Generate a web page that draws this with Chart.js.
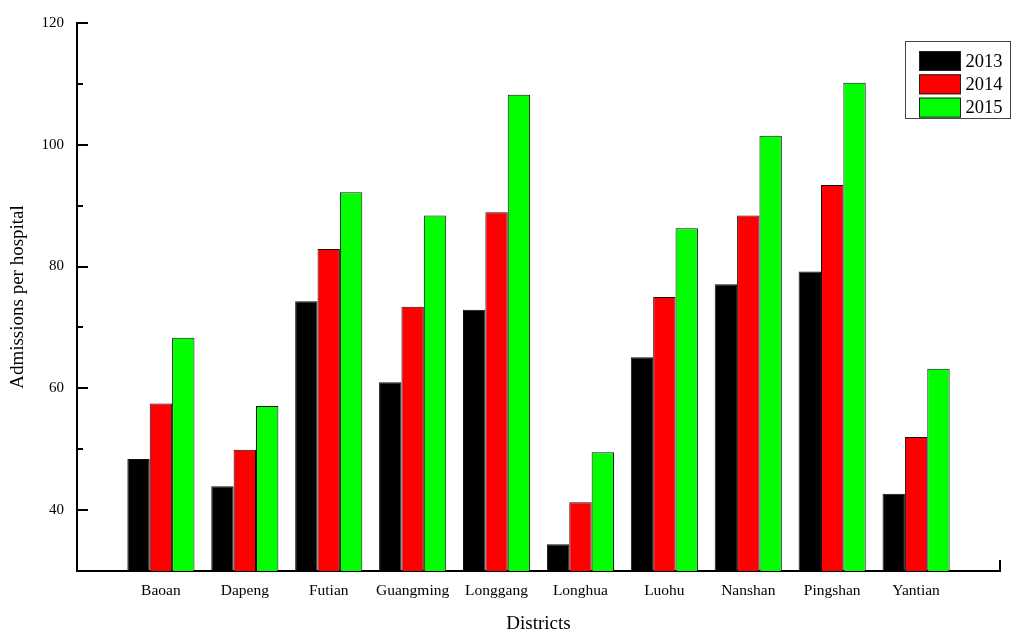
<!DOCTYPE html>
<html>
<head>
<meta charset="utf-8">
<script src="https://cdn.jsdelivr.net/npm/chart.js@4.4.0/dist/chart.umd.min.js"></script>
<style>
  html, body { margin: 0; padding: 0; background: #ffffff; }
  #wrap { width: 1024px; height: 637px; }
</style>
</head>
<body>
<div id="wrap"><canvas id="c" width="1024" height="637"></canvas></div>
<script>
const categories = ['Baoan','Dapeng','Futian','Guangming','Longgang','Longhua','Luohu','Nanshan','Pingshan','Yantian'];
const seriesNames = ['2013','2014','2015'];
const values2013 = [48.4, 43.9, 74.3, 61.0, 72.9, 34.4, 65.1, 77.1, 79.2, 42.7];
const values2014 = [57.5, 49.9, 82.9, 73.4, 88.9, 41.3, 75.0, 88.4, 93.4, 52.0];
const values2015 = [68.3, 57.1, 92.2, 88.4, 108.2, 49.5, 86.3, 101.5, 110.2, 63.2];
const yMajorTicks = [40, 60, 80, 100, 120];
const yMinorTicks = [50, 70, 90, 110];
const yMin = 30, yMax = 120;

const colors = ['#000000', '#ff0000', '#00ff00'];
const FONT = "'Liberation Serif', 'Times New Roman', serif";

// pad with empty slots so the axis extends one category beyond each end
const labels = [''].concat(categories, ['']);
const pad = arr => [null].concat(arr, [null]);
const allSeries = [values2013, values2014, values2015];

const datasets = allSeries.map((vals, i) => ({
  label: seriesNames[i],
  data: pad(vals),
  backgroundColor: colors[i],
  borderColor: '#111111',
  borderWidth: 1,
  borderSkipped: 'bottom',
  categoryPercentage: 0.8,
  barPercentage: 1.0
}));

const innerTicks = {
  id: 'innerTicks',
  afterDraw(chart) {
    const ctx = chart.ctx;
    const y = chart.scales.y;
    const left = chart.chartArea.left;
    ctx.save();
    ctx.strokeStyle = '#000';
    ctx.lineWidth = 2;
    ctx.beginPath();
    yMajorTicks.forEach(v => {
      const p = Math.round(y.getPixelForValue(v));
      ctx.moveTo(left, p); ctx.lineTo(left + 11, p);
    });
    yMinorTicks.forEach(v => {
      const p = Math.round(y.getPixelForValue(v));
      ctx.moveTo(left, p); ctx.lineTo(left + 6, p);
    });
    const rx = chart.chartArea.right;
    const by = chart.chartArea.bottom;
    ctx.moveTo(rx, by); ctx.lineTo(rx, by - 11);
    ctx.stroke();
    ctx.restore();
  }
};

const boxLegend = {
  id: 'boxLegend',
  afterDraw(chart) {
    const ctx = chart.ctx;
    const bx = 905.5, by = 41.5, bw = 105, bh = 77;
    ctx.save();
    ctx.fillStyle = '#ffffff';
    ctx.fillRect(bx, by, bw, bh);
    ctx.strokeStyle = '#444';
    ctx.lineWidth = 1;
    ctx.strokeRect(bx, by, bw, bh);
    ctx.font = '18.5px ' + FONT;
    ctx.textBaseline = 'middle';
    ctx.textAlign = 'left';
    chart.data.datasets.forEach((ds, i) => {
      const sy = 51 + i * 23.3;
      ctx.fillStyle = ds.backgroundColor;
      ctx.fillRect(919, sy, 42, 20);
      ctx.strokeStyle = '#222';
      ctx.strokeRect(919.5, sy + 0.5, 41, 19);
      ctx.fillStyle = '#000';
      ctx.fillText(ds.label, 965.5, sy + 11);
    });
    ctx.restore();
  }
};

new Chart(document.getElementById('c'), {
  type: 'bar',
  data: { labels: labels, datasets: datasets },
  plugins: [innerTicks, boxLegend],
  options: {
    responsive: false,
    animation: false,
    devicePixelRatio: 1,
    layout: { padding: { top: 23, right: 24, left: 0, bottom: 0 } },
    plugins: {
      legend: { display: false },
      tooltip: { enabled: false }
    },
    scales: {
      x: {
        offset: false,
        grid: { display: false, drawTicks: false },
        border: { display: true, color: '#000', width: 2 },
        ticks: {
          autoSkip: false, maxRotation: 0, minRotation: 0,
          padding: 11, color: '#000',
          font: { family: FONT, size: 15.5 }
        },
        title: {
          display: true, text: 'Districts', color: '#000',
          font: { family: FONT, size: 19 },
          padding: { top: 0, bottom: 2 }
        },
        afterFit(scale) { scale.height = 66; }
      },
      y: {
        min: yMin, max: yMax,
        grid: { display: false, drawTicks: false },
        border: { display: true, color: '#000', width: 2 },
        afterBuildTicks(scale) { scale.ticks = yMajorTicks.map(v => ({ value: v })); },
        ticks: {
          padding: 13, color: '#000',
          font: { family: FONT, size: 15 }
        },
        title: {
          display: true, text: 'Admissions per hospital', color: '#000',
          font: { family: FONT, size: 19 },
          padding: { top: 7, bottom: 0 }
        },
        afterFit(scale) { scale.width = 77; }
      }
    }
  }
});
</script>
</body>
</html>
